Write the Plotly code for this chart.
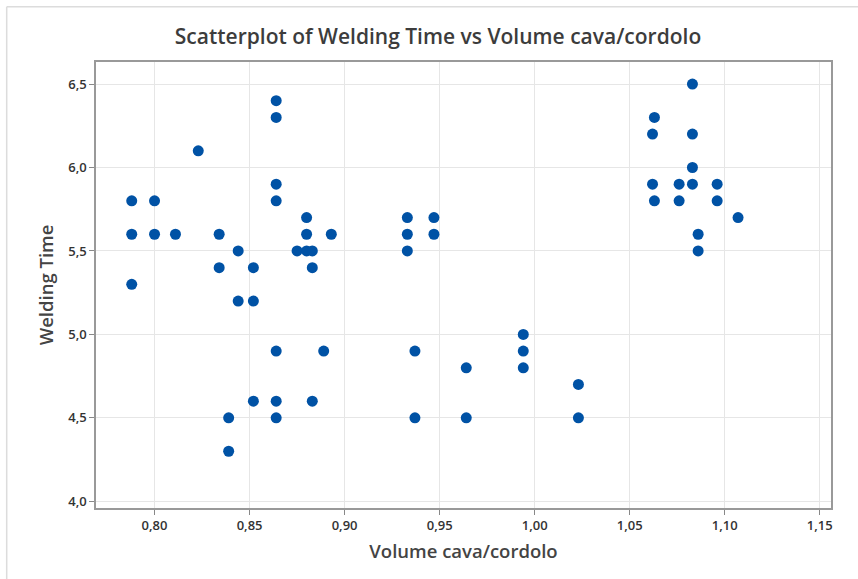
#Scatterplot of Welding Time vs Volume cava/cordolo
import plotly.graph_objects as go

# values
volume = [
    0.788, 0.788, 0.788, 0.800, 0.800, 0.811, 0.823, 0.834, 0.834,
    0.844, 0.844, 0.852, 0.852, 0.852, 0.839, 0.839,
    0.864, 0.864, 0.864, 0.864, 0.864, 0.864, 0.864,
    0.875, 0.880, 0.880, 0.880, 0.883, 0.883, 0.883, 0.889, 0.893,
    0.933, 0.933, 0.933, 0.947, 0.947, 0.937, 0.937,
    0.964, 0.964, 0.994, 0.994, 0.994, 1.023, 1.023,
    1.083, 1.063, 1.062, 1.083, 1.083, 1.062, 1.076, 1.083, 1.096,
    1.063, 1.076, 1.096, 1.107, 1.086, 1.086,
]
welding_time = [
    5.8, 5.6, 5.3, 5.8, 5.6, 5.6, 6.1, 5.6, 5.4,
    5.5, 5.2, 5.4, 5.2, 4.6, 4.5, 4.3,
    6.4, 6.3, 5.9, 5.8, 4.9, 4.6, 4.5,
    5.5, 5.7, 5.6, 5.5, 5.5, 5.4, 4.6, 4.9, 5.6,
    5.7, 5.6, 5.5, 5.7, 5.6, 4.9, 4.5,
    4.8, 4.5, 5.0, 4.9, 4.8, 4.7, 4.5,
    6.5, 6.3, 6.2, 6.2, 6.0, 5.9, 5.9, 5.9, 5.9,
    5.8, 5.8, 5.8, 5.7, 5.6, 5.5,
]

x_ticks = [0.80, 0.85, 0.90, 0.95, 1.00, 1.05, 1.10, 1.15]
y_ticks = [4.0, 4.5, 5.0, 5.5, 6.0, 6.5]

FONT = "Open Sans, sans-serif"
BLUE = "#0052A5"

fig = go.Figure(
    go.Scatter(
        x=volume,
        y=welding_time,
        mode="markers",
        marker=dict(size=11, color=BLUE, line=dict(width=0)),
    )
)

fig.update_layout(
    width=858,
    height=579,
    margin=dict(l=96, r=27, t=62, b=71),
    paper_bgcolor="white",
    plot_bgcolor="white",
    separators=",.",
    showlegend=False,
    font=dict(family=FONT, color="#333333"),
    title=dict(
        text="Scatterplot of Welding Time vs Volume cava/cordolo",
        x=438 / 858,
        xref="container",
        xanchor="center",
        y=1 - 37 / 579,
        yref="container",
        yanchor="middle",
        font=dict(size=21, color="#3c3c3c", weight=600),
    ),
)

# the light frame around the graph (only top and left visible)
fig.add_shape(type="line", xref="paper", yref="paper", x0=-0.1215, x1=1.04,
              y0=1.124, y1=1.124, line=dict(color="#dcdcdc", width=1.5))
fig.add_shape(type="line", xref="paper", yref="paper", x0=-0.1215, x1=-0.1215,
              y0=1.124, y1=-0.2, line=dict(color="#dcdcdc", width=1.5))

fig.update_xaxes(
    range=[0.7692, 1.1559],
    tickvals=x_ticks,
    tickformat=".2f",
    ticks="outside",
    ticklen=5,
    tickcolor="#888888",
    showgrid=True,
    gridcolor="#e6e6e6",
    showline=True,
    linecolor="#999999",
    linewidth=1.5,
    mirror=True,
    zeroline=False,
    tickfont=dict(size=13, color="#333333", weight=600),
    title=dict(text="Volume cava/cordolo", font=dict(size=18.5, color="#444444", weight=600), standoff=12),
)
fig.update_yaxes(
    range=[3.96, 6.632],
    tickvals=y_ticks,
    tickformat=".1f",
    ticks="outside",
    ticklen=5,
    tickcolor="#888888",
    showgrid=True,
    gridcolor="#e6e6e6",
    showline=True,
    linecolor="#999999",
    linewidth=1.5,
    mirror=True,
    zeroline=False,
    tickfont=dict(size=13, color="#333333", weight=600),
    title=dict(text="Welding Time", font=dict(size=18.5, color="#444444", weight=600), standoff=10),
)

# drop the default 8px body margin so the figure sits at the page corner
fig.write_html(
    "out.html",
    config={"displayModeBar": False},
    post_script="document.body.style.margin='0';",
)
